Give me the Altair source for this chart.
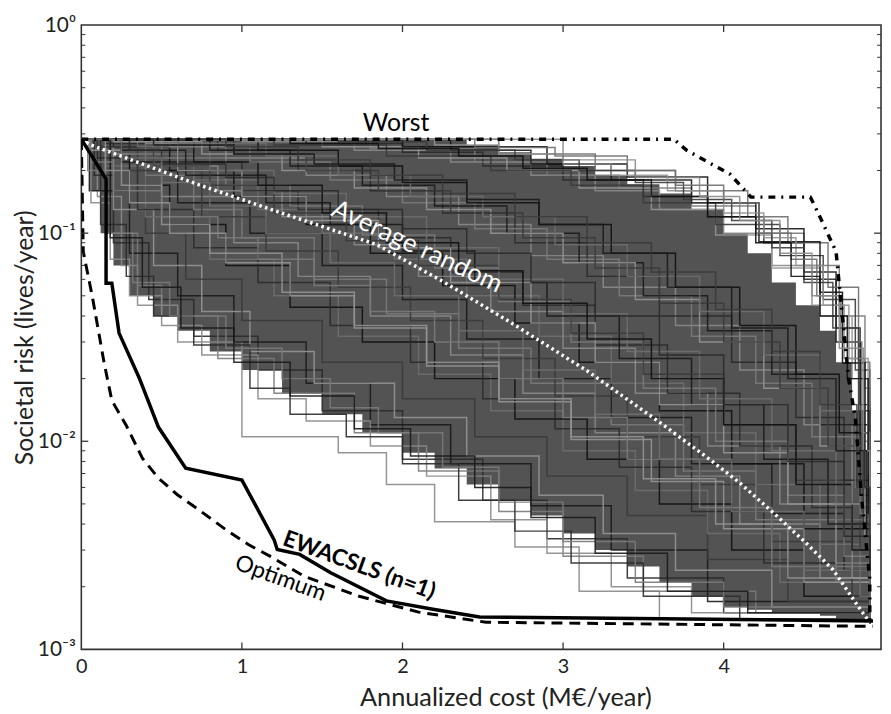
import altair as alt
import pandas as pd

X_MAX = 4.98
Y_MIN, Y_MAX = 0.001, 1.0

# ---- random measure orderings (staircases) ----
RANDOM_COSTS = [
    [0, 0.1, 0.25, 0.35, 0.6, 1.0, 1.6, 1.9, 2.2, 2.7, 3.1, 3.6, 4.91],
    [0, 0.08, 0.2, 0.42, 0.7, 1.1, 1.5, 2.0, 2.5, 2.9, 3.4, 4.0, 4.91],
    [0, 0.15, 0.35, 0.5, 0.85, 1.2, 1.7, 2.1, 2.6, 3.0, 3.5, 4.2, 4.91],
    [0, 0.05, 0.3, 0.6, 0.95, 1.4, 1.8, 2.3, 2.8, 3.3, 3.9, 4.91],
    [0, 0.2, 0.45, 0.75, 1.05, 1.45, 1.95, 2.4, 2.85, 3.25, 3.7, 4.3, 4.91],
    [0, 0.1, 0.4, 0.65, 1.0, 1.5, 2.0, 2.45, 2.9, 3.4, 3.9, 4.4, 4.91],
    [0, 0.15, 0.4, 0.8, 1.2, 1.6, 2.1, 2.55, 3.0, 3.45, 3.9, 4.35, 4.91],
    [0, 0.3, 0.55, 0.9, 1.3, 1.75, 2.2, 2.7, 3.15, 3.6, 4.05, 4.5, 4.91],
    [0, 0.2, 0.5, 0.95, 1.35, 1.8, 2.3, 2.75, 3.2, 3.7, 4.1, 4.6, 4.91],
    [0, 0.1, 0.35, 0.7, 1.1, 1.55, 2.05, 2.5, 2.95, 3.35, 3.8, 4.25, 4.91],
    [0, 0.4, 0.7, 1.0, 1.45, 1.9, 2.35, 2.8, 3.3, 3.75, 4.2, 4.7, 4.91],
    [0, 0.25, 0.6, 1.05, 1.5, 2.0, 2.4, 2.85, 3.3, 3.8, 4.3, 4.75, 4.91],
    [0, 0.05, 0.25, 0.5, 0.8, 1.25, 1.7, 2.15, 2.6, 3.05, 3.55, 4.0, 4.5, 4.91],
    [0, 0.35, 0.75, 1.15, 1.6, 2.05, 2.5, 2.95, 3.4, 3.85, 4.3, 4.8, 4.91],
    [0, 0.3, 0.7, 1.1, 1.5, 1.95, 2.4, 2.85, 3.3, 3.75, 4.2, 4.6, 4.85, 4.91],
    [0, 0.2, 0.55, 0.95, 1.4, 1.8, 2.25, 2.7, 3.1, 3.6, 4.05, 4.5, 4.91],
    [0, 0.45, 0.85, 1.25, 1.7, 2.1, 2.55, 3.0, 3.45, 3.9, 4.35, 4.7, 4.91],
    [0, 0.15, 0.6, 1.0, 1.35, 1.85, 2.3, 2.75, 3.2, 3.65, 4.1, 4.55, 4.8, 4.91],
    [0, 0.5, 0.9, 1.3, 1.75, 2.2, 2.6, 3.05, 3.5, 3.95, 4.4, 4.75, 4.91],
    [0, 0.25, 0.65, 1.15, 1.55, 2.0, 2.45, 2.9, 3.35, 3.8, 4.25, 4.65, 4.91],
    [0, 0.6, 1.0, 1.4, 1.85, 2.3, 2.8, 3.2, 3.6, 4.0, 4.4, 4.8, 4.91],
    [0, 0.1, 0.45, 0.8, 1.2, 1.65, 2.1, 2.6, 3.05, 3.5, 4.0, 4.45, 4.85, 4.91],
    [0, 0.35, 0.8, 1.2, 1.65, 2.15, 2.6, 3.0, 3.4, 3.85, 4.3, 4.7, 4.91],
    [0, 0.7, 1.1, 1.5, 1.9, 2.35, 2.75, 3.15, 3.55, 4.0, 4.45, 4.8, 4.91],
    [0, 0.4, 0.9, 1.4, 1.9, 2.35, 2.8, 3.25, 3.7, 4.1, 4.5, 4.8, 4.91],
    [0, 0.3, 0.85, 1.35, 1.8, 2.25, 2.7, 3.15, 3.6, 4.05, 4.45, 4.75, 4.91],
    [0, 0.55, 1.05, 1.55, 2.0, 2.45, 2.9, 3.35, 3.8, 4.2, 4.55, 4.85, 4.91],
    [0, 0.8, 1.3, 1.75, 2.2, 2.65, 3.1, 3.5, 3.9, 4.3, 4.6, 4.85, 4.91],
    [0, 0.2, 0.75, 1.25, 1.7, 2.15, 2.55, 3.0, 3.45, 3.85, 4.25, 4.6, 4.88, 4.91],
    [0, 0.95, 1.4, 1.85, 2.3, 2.75, 3.2, 3.6, 4.0, 4.35, 4.65, 4.87, 4.91],
    [0, 0.6, 1.15, 1.6, 2.05, 2.5, 2.95, 3.4, 3.85, 4.25, 4.6, 4.82, 4.91],
    [0, 1.1, 1.6, 2.0, 2.4, 2.85, 3.3, 3.7, 4.1, 4.45, 4.72, 4.9, 4.91],
    [0, 1.0, 1.7, 2.3, 2.8, 3.2, 3.6, 4.0, 4.3, 4.55, 4.75, 4.88, 4.91],
    [0, 1.4, 2.0, 2.5, 3.0, 3.5, 3.9, 4.25, 4.5, 4.7, 4.85, 4.91],
    [0, 1.8, 2.45, 2.9, 3.35, 3.8, 4.2, 4.5, 4.72, 4.88, 4.91],
    [0, 2.3, 2.8, 3.3, 3.8, 4.2, 4.5, 4.7, 4.85, 4.91],
    [0, 0.7, 1.5, 2.1, 2.65, 3.1, 3.55, 3.95, 4.3, 4.6, 4.8, 4.9, 4.91],
    [0, 1.2, 1.9, 2.55, 3.05, 3.5, 3.95, 4.35, 4.62, 4.82, 4.91],
    [0, 2.6, 3.2, 3.7, 4.15, 4.4, 4.65, 4.84, 4.91],
    [0, 2.0, 2.9, 3.4, 3.9, 4.22, 4.6, 4.74, 4.88, 4.91],
    [0, 0.06, 0.18, 0.3, 0.5, 0.75, 1.1, 1.4, 1.8, 2.15, 2.55, 2.9, 3.3, 3.8, 4.91],
    [0, 0.12, 0.28, 0.45, 0.7, 1.05, 1.3, 1.65, 2.0, 2.35, 2.7, 3.05, 3.5, 4.1, 4.91],
    [0, 0.04, 0.15, 0.32, 0.55, 0.9, 1.25, 1.55, 1.85, 2.25, 2.6, 3.0, 3.45, 4.0, 4.91],
    [0, 0.18, 0.38, 0.62, 0.95, 1.3, 1.7, 2.05, 2.45, 2.8, 3.2, 3.65, 4.15, 4.91],
    [0, 2.2, 2.6, 3.0, 3.3, 3.65, 4.0, 4.25, 4.45, 4.62, 4.78, 4.9, 4.91],
    [0, 1.6, 2.15, 2.7, 3.1, 3.45, 3.75, 4.05, 4.3, 4.5, 4.68, 4.84, 4.91],
    [0, 2.45, 2.95, 3.4, 3.7, 4.0, 4.22, 4.42, 4.58, 4.73, 4.86, 4.91],
    [0, 1.3, 1.85, 2.35, 2.75, 3.15, 3.55, 3.9, 4.2, 4.42, 4.6, 4.77, 4.9, 4.91],
    [0, 3.0, 3.45, 3.85, 4.1, 4.35, 4.55, 4.72, 4.87, 4.91],
    [0, 0.3, 0.5, 0.9, 1.2, 1.6, 2.0, 2.4, 2.8, 3.2, 3.6, 4.0, 4.4, 4.75, 4.91],
    [0, 0.06, 0.2, 0.5, 0.85, 1.1, 1.45, 1.8, 2.2, 2.6, 3.0, 3.4, 3.85, 4.3, 4.91],
    [0, 0.45, 0.95, 1.45, 1.95, 2.4, 2.85, 3.25, 3.65, 4.05, 4.4, 4.7, 4.89, 4.91],
    [0, 0.15, 0.3, 0.55, 0.9, 1.3, 1.7, 2.15, 2.6, 3.05, 3.5, 3.95, 4.4, 4.91],
    [0, 0.9, 1.35, 1.8, 2.25, 2.7, 3.15, 3.55, 3.95, 4.3, 4.6, 4.83, 4.91],
    [0, 0.25, 0.5, 0.8, 1.15, 1.55, 1.95, 2.35, 2.75, 3.2, 3.6, 4.05, 4.5, 4.91],
]
RANDOM_RISKS = [
    [0.283, 0.15, 0.07, 0.045, 0.03, 0.0105, 0.0088, 0.0062, 0.0041, 0.0031, 0.0019, 0.0014, 0.00133],
    [0.283, 0.19, 0.09, 0.048, 0.032, 0.022, 0.014, 0.0082, 0.0052, 0.0034, 0.0022, 0.0015, 0.00133],
    [0.283, 0.1, 0.056, 0.04, 0.025, 0.017, 0.011, 0.0072, 0.0046, 0.0028, 0.0019, 0.0015, 0.00133],
    [0.283, 0.16, 0.08, 0.05, 0.03, 0.019, 0.012, 0.0078, 0.0049, 0.003, 0.0017, 0.00133],
    [0.283, 0.13, 0.07, 0.042, 0.027, 0.019, 0.013, 0.0085, 0.0055, 0.0036, 0.0024, 0.0016, 0.00133],
    [0.283, 0.2, 0.1, 0.06, 0.038, 0.024, 0.016, 0.0105, 0.0068, 0.0044, 0.0027, 0.0017, 0.00133],
    [0.283, 0.21, 0.12, 0.075, 0.05, 0.032, 0.021, 0.014, 0.009, 0.0058, 0.0036, 0.0021, 0.00133],
    [0.283, 0.17, 0.11, 0.07, 0.044, 0.03, 0.02, 0.0128, 0.0082, 0.005, 0.003, 0.0018, 0.00133],
    [0.283, 0.24, 0.15, 0.09, 0.062, 0.04, 0.026, 0.017, 0.011, 0.0068, 0.004, 0.0022, 0.00133],
    [0.283, 0.23, 0.13, 0.085, 0.058, 0.036, 0.024, 0.016, 0.0115, 0.0075, 0.0046, 0.0026, 0.00133],
    [0.283, 0.19, 0.13, 0.095, 0.06, 0.041, 0.028, 0.019, 0.012, 0.0072, 0.0042, 0.0021, 0.00133],
    [0.283, 0.22, 0.14, 0.1, 0.07, 0.048, 0.031, 0.02, 0.013, 0.0078, 0.0045, 0.0024, 0.00133],
    [0.283, 0.25, 0.17, 0.11, 0.08, 0.052, 0.035, 0.023, 0.0155, 0.0102, 0.0064, 0.0038, 0.0021, 0.00133],
    [0.283, 0.2, 0.12, 0.082, 0.055, 0.038, 0.025, 0.0165, 0.0105, 0.0062, 0.0033, 0.0018, 0.00133],
    [0.283, 0.24, 0.18, 0.13, 0.1, 0.075, 0.05, 0.032, 0.019, 0.011, 0.0062, 0.0032, 0.0018, 0.00133],
    [0.283, 0.26, 0.2, 0.15, 0.11, 0.08, 0.056, 0.037, 0.024, 0.014, 0.0078, 0.0038, 0.00133],
    [0.283, 0.21, 0.16, 0.12, 0.088, 0.062, 0.042, 0.028, 0.017, 0.0095, 0.005, 0.0026, 0.00133],
    [0.283, 0.27, 0.22, 0.16, 0.13, 0.095, 0.065, 0.045, 0.029, 0.017, 0.0095, 0.0048, 0.0025, 0.00133],
    [0.283, 0.23, 0.17, 0.135, 0.098, 0.068, 0.047, 0.03, 0.018, 0.01, 0.0055, 0.0028, 0.00133],
    [0.283, 0.25, 0.19, 0.14, 0.11, 0.082, 0.058, 0.04, 0.025, 0.015, 0.0082, 0.004, 0.00133],
    [0.283, 0.2, 0.15, 0.115, 0.085, 0.058, 0.037, 0.024, 0.015, 0.0088, 0.005, 0.0022, 0.00133],
    [0.283, 0.26, 0.21, 0.17, 0.125, 0.092, 0.07, 0.048, 0.033, 0.021, 0.012, 0.0065, 0.003, 0.00133],
    [0.283, 0.26, 0.2, 0.155, 0.12, 0.085, 0.06, 0.041, 0.027, 0.016, 0.009, 0.0042, 0.00133],
    [0.283, 0.22, 0.17, 0.125, 0.09, 0.066, 0.046, 0.031, 0.02, 0.012, 0.0062, 0.003, 0.00133],
    [0.283, 0.27, 0.23, 0.19, 0.15, 0.11, 0.078, 0.055, 0.036, 0.022, 0.012, 0.005, 0.00133],
    [0.283, 0.28, 0.25, 0.2, 0.16, 0.125, 0.09, 0.062, 0.04, 0.024, 0.013, 0.0065, 0.00133],
    [0.283, 0.26, 0.22, 0.18, 0.14, 0.105, 0.075, 0.05, 0.032, 0.019, 0.0105, 0.0045, 0.00133],
    [0.283, 0.25, 0.21, 0.17, 0.135, 0.1, 0.072, 0.05, 0.034, 0.021, 0.012, 0.0055, 0.00133],
    [0.283, 0.275, 0.24, 0.2, 0.165, 0.13, 0.1, 0.072, 0.048, 0.03, 0.018, 0.0095, 0.0035, 0.00133],
    [0.283, 0.24, 0.2, 0.16, 0.125, 0.095, 0.068, 0.046, 0.03, 0.018, 0.0095, 0.004, 0.00133],
    [0.283, 0.27, 0.235, 0.19, 0.15, 0.12, 0.088, 0.062, 0.042, 0.026, 0.014, 0.006, 0.00133],
    [0.283, 0.25, 0.21, 0.175, 0.14, 0.11, 0.08, 0.055, 0.036, 0.021, 0.011, 0.0045, 0.00133],
    [0.283, 0.275, 0.25, 0.22, 0.19, 0.16, 0.13, 0.1, 0.07, 0.045, 0.025, 0.01, 0.00133],
    [0.283, 0.27, 0.245, 0.21, 0.18, 0.15, 0.12, 0.09, 0.06, 0.035, 0.015, 0.00133],
    [0.283, 0.255, 0.22, 0.19, 0.165, 0.135, 0.1, 0.07, 0.04, 0.018, 0.00133],
    [0.283, 0.25, 0.215, 0.18, 0.14, 0.105, 0.065, 0.03, 0.012, 0.00133],
    [0.283, 0.28, 0.26, 0.23, 0.2, 0.165, 0.13, 0.098, 0.068, 0.04, 0.02, 0.007, 0.00133],
    [0.283, 0.265, 0.235, 0.2, 0.17, 0.14, 0.11, 0.078, 0.048, 0.022, 0.00133],
    [0.283, 0.24, 0.2, 0.16, 0.12, 0.09, 0.055, 0.024, 0.00133],
    [0.283, 0.26, 0.215, 0.186, 0.14, 0.091, 0.052, 0.0238, 0.006, 0.00133],
    [0.283, 0.14, 0.075, 0.05, 0.036, 0.026, 0.016, 0.0125, 0.0095, 0.0068, 0.0042, 0.0029, 0.002, 0.0015, 0.00133],
    [0.283, 0.11, 0.062, 0.04, 0.029, 0.018, 0.0135, 0.0105, 0.0078, 0.0052, 0.0037, 0.0026, 0.0018, 0.0014, 0.00133],
    [0.283, 0.2, 0.1, 0.058, 0.04, 0.028, 0.02, 0.0145, 0.011, 0.0075, 0.0051, 0.0033, 0.0021, 0.0016, 0.00133],
    [0.283, 0.095, 0.055, 0.035, 0.024, 0.0165, 0.0115, 0.0085, 0.006, 0.0043, 0.0029, 0.0019, 0.0015, 0.00133],
    [0.283, 0.265, 0.24, 0.215, 0.19, 0.16, 0.125, 0.095, 0.07, 0.045, 0.025, 0.008, 0.00133],
    [0.283, 0.275, 0.25, 0.225, 0.2, 0.175, 0.145, 0.115, 0.085, 0.058, 0.035, 0.014, 0.00133],
    [0.283, 0.258, 0.235, 0.2, 0.17, 0.14, 0.1, 0.075, 0.05, 0.03, 0.011, 0.00133],
    [0.283, 0.27, 0.255, 0.235, 0.205, 0.18, 0.15, 0.12, 0.09, 0.062, 0.04, 0.02, 0.006, 0.00133],
    [0.283, 0.225, 0.185, 0.15, 0.115, 0.08, 0.05, 0.028, 0.009, 0.00133],
    [0.283, 0.25, 0.215, 0.185, 0.16, 0.13, 0.105, 0.08, 0.058, 0.04, 0.026, 0.015, 0.008, 0.0035, 0.00133],
    [0.283, 0.22, 0.16, 0.12, 0.095, 0.075, 0.056, 0.042, 0.03, 0.02, 0.013, 0.0082, 0.0048, 0.0025, 0.00133],
    [0.283, 0.265, 0.24, 0.215, 0.18, 0.145, 0.11, 0.08, 0.055, 0.035, 0.02, 0.009, 0.0035, 0.00133],
    [0.283, 0.2, 0.14, 0.1, 0.072, 0.05, 0.036, 0.024, 0.016, 0.0105, 0.0066, 0.004, 0.0022, 0.00133],
    [0.283, 0.26, 0.225, 0.19, 0.155, 0.12, 0.09, 0.065, 0.043, 0.027, 0.015, 0.006, 0.00133],
    [0.283, 0.23, 0.175, 0.135, 0.1, 0.072, 0.05, 0.034, 0.022, 0.0135, 0.0082, 0.0046, 0.0024, 0.00133],
]

# dense core of the random-ordering bundle (where the lines merge into a dark mass)
BAND_COST = [0, 0.05, 0.12, 0.2, 0.3, 0.45, 0.6, 0.8, 1.0, 1.25, 1.5, 1.75, 2.0, 2.2, 2.4, 2.6,
             2.8, 3.0, 3.2, 3.4, 3.6, 3.8, 4.0, 4.15, 4.3, 4.45, 4.6, 4.7, 4.8, 4.88, 4.91]
BAND_UPPER = [0.283, 0.283, 0.283, 0.283, 0.283, 0.283, 0.283, 0.283, 0.283, 0.283, 0.283, 0.283,
              0.283, 0.283, 0.265, 0.245, 0.228, 0.21, 0.19, 0.172, 0.155, 0.13, 0.1, 0.08, 0.058,
              0.045, 0.034, 0.024, 0.014, 0.006, 0.00133]
BAND_LOWER = [0.283, 0.16, 0.1, 0.07, 0.05, 0.04, 0.034, 0.027, 0.022, 0.017, 0.0135, 0.011, 0.0088,
              0.0074, 0.0062, 0.0052, 0.0044, 0.0036, 0.003, 0.0025, 0.0021, 0.0018, 0.0016, 0.00155,
              0.0015, 0.0015, 0.00145, 0.0014, 0.0014, 0.00135, 0.00133]

# ---- named curves ----
AVG_COST = [0, 0.05, 0.73, 1.22, 1.84, 2.25, 2.66, 3.15, 3.61, 3.92, 4.10, 4.31, 4.51, 4.68, 4.85, 4.91]
AVG_RISK = [0.283, 0.267, 0.171, 0.127, 0.0881, 0.0587, 0.0378, 0.0218, 0.0122, 0.00811, 0.00631,
            0.00453, 0.00326, 0.00242, 0.00156, 0.00135]

WORST_COST = [0, 3.69, 3.77, 4.04, 4.17, 4.54, 4.57, 4.70, 4.73, 4.78, 4.82, 4.86, 4.91, 4.91]
WORST_RISK = [0.283, 0.283, 0.250, 0.192, 0.149, 0.149, 0.134, 0.0816, 0.0471, 0.0195, 0.0130,
              0.00523, 0.00217, 0.0013]

OPT_COST = [0, 0.012, 0.068, 0.142, 0.19, 0.28, 0.38, 0.48, 0.60, 0.73, 0.90, 1.04, 1.18, 1.39,
            1.73, 2.10, 2.52, 4.93]
OPT_RISK = [0.283, 0.0816, 0.0498, 0.0238, 0.0157, 0.0119, 0.0083, 0.00665, 0.00552, 0.00469,
            0.00376, 0.00319, 0.00279, 0.00224, 0.0018, 0.00151, 0.00135, 0.00129]

EW_COST = [0, 0.154, 0.154, 0.19, 0.235, 0.36, 0.48, 0.65, 1.0, 1.20, 1.22, 1.36, 1.55, 1.90, 2.19,
           2.48, 4.93]
EW_RISK = [0.283, 0.182, 0.0574, 0.0574, 0.0331, 0.0202, 0.0117, 0.00743, 0.00651, 0.00337, 0.00302,
           0.00286, 0.00234, 0.00171, 0.00156, 0.00143, 0.00137]

LABEL_TEXT = ["Worst", "Average random", "EWACSLS (n=1)", "Optimum"]
LABEL_COST = [1.96, 2.09, 1.73, 1.24]
LABEL_RISK = [0.337, 0.086, 0.00253, 0.00219]

X_TICKS = [0, 1, 2, 3, 4]
Y_MAJOR = [1, 0.1, 0.01, 0.001]
Y_MINOR = [0.002, 0.003, 0.004, 0.005, 0.006, 0.007, 0.008, 0.009,
           0.02, 0.03, 0.04, 0.05, 0.06, 0.07, 0.08, 0.09,
           0.2, 0.3, 0.4, 0.5, 0.6, 0.7, 0.8, 0.9]

W, H = 807, 630
FONT = "Lato"
GRAYS = ["#8a8a8a", "#2a2a2a", "#7a7a7a", "#1a1a1a", "#949494", "#3a3a3a", "#6e6e6e", "#111111"]

# ---- tables ----
rows = []
for i, (cs, rs) in enumerate(zip(RANDOM_COSTS, RANDOM_RISKS)):
    for c, r in zip(cs, rs):
        rows.append({"id": i, "cost": c, "risk": r, "shade": GRAYS[i % len(GRAYS)]})
rand_df = pd.DataFrame(rows)
band_df = pd.DataFrame({"cost": BAND_COST, "upper": BAND_UPPER, "lower": BAND_LOWER})


def curve(costs, risks):
    return pd.DataFrame({"cost": costs, "risk": risks, "idx": list(range(len(costs)))})


xs = alt.Scale(domain=[0, X_MAX], nice=False, zero=False)
ys = alt.Scale(type="log", domain=[Y_MIN, Y_MAX], nice=False)

x_axis = alt.Axis(values=X_TICKS, format="d", ticks=False, domain=False, grid=False,
                  labelFontSize=20, labelFont=FONT, labelColor="#222", labelPadding=7,
                  labelFlush=False, title="Annualized cost (M€/year)", titleFontSize=25.5,
                  titleFont=FONT, titleFontWeight="normal", titleColor="#222",
                  titleX=428, titleY=57, titleBaseline="alphabetic", titleAnchor="middle")
y_axis = alt.Axis(values=Y_MAJOR, ticks=False, domain=False, grid=False,
                  labelExpr="datum.value >= 0.5 ? '10⁰' : datum.value >= 0.05 ? '10⁻¹' : datum.value >= 0.005 ? '10⁻²' : '10⁻³'",
                  labelFontSize=21, labelFont=FONT, labelColor="#222", labelPadding=6,
                  labelFlush=False, title="Societal risk (lives/year)", titleFontSize=25,
                  titleFont=FONT, titleFontWeight="normal", titleColor="#222",
                  titleX=-57, titleY=H / 2, titleAngle=-90, titleBaseline="middle",
                  titleAlign="center")

band_layer = alt.Chart(band_df).mark_area(
    color="#444444", opacity=0.92, clip=True, interpolate="step-after"
).encode(
    x=alt.X("cost:Q", scale=xs, axis=x_axis),
    y=alt.Y("upper:Q", scale=ys, axis=y_axis),
    y2="lower:Q",
)

random_layer = alt.Chart(rand_df).mark_line(
    interpolate="step-after", strokeWidth=1.5, opacity=0.9, clip=True
).encode(
    x=alt.X("cost:Q", scale=xs),
    y=alt.Y("risk:Q", scale=ys),
    detail="id:N",
    color=alt.Color("shade:N", scale=None),
)


def named(costs, risks, **kw):
    return alt.Chart(curve(costs, risks)).mark_line(clip=True, **kw).encode(
        x=alt.X("cost:Q", scale=xs), y=alt.Y("risk:Q", scale=ys), order="idx:Q")


avg_layer = named(AVG_COST, AVG_RISK, color="white", strokeWidth=3.5, strokeDash=[2.5, 3.5])
worst_layer = named(WORST_COST, WORST_RISK, color="black", strokeWidth=3.5, strokeDash=[7, 6, 2, 6])
opt_layer = named(OPT_COST, OPT_RISK, color="black", strokeWidth=3, strokeDash=[11, 7])
ew_layer = named(EW_COST, EW_RISK, color="black", strokeWidth=3.5)

lab = pd.DataFrame({"text": LABEL_TEXT, "cost": LABEL_COST, "risk": LABEL_RISK})


def label(i, **kw):
    return alt.Chart(lab.iloc[[i]]).mark_text(font=FONT, **kw).encode(
        x=alt.X("cost:Q", scale=xs), y=alt.Y("risk:Q", scale=ys), text="text:N")


labels = [
    label(0, fontSize=25, color="black"),
    label(1, fontSize=26, color="white", angle=25),
    label(2, fontSize=23, color="black", fontWeight="bold", angle=20),
    label(3, fontSize=23, color="black", angle=20),
]

# inward ticks
tick_color = "#333"
xt = pd.DataFrame({"v": X_TICKS[1:]})
ymaj = pd.DataFrame({"v": Y_MAJOR[1:3]})
ymin = pd.DataFrame({"v": Y_MINOR})
ticks = [
    alt.Chart(xt).mark_rule(color=tick_color, strokeWidth=1.3).encode(
        x=alt.X("v:Q", scale=xs), y=alt.value(H - 7), y2=alt.value(H)),
    alt.Chart(xt).mark_rule(color=tick_color, strokeWidth=1.3).encode(
        x=alt.X("v:Q", scale=xs), y=alt.value(0), y2=alt.value(7)),
    alt.Chart(ymaj).mark_rule(color=tick_color, strokeWidth=1.3).encode(
        y=alt.Y("v:Q", scale=ys), x=alt.value(0), x2=alt.value(7)),
    alt.Chart(ymaj).mark_rule(color=tick_color, strokeWidth=1.3).encode(
        y=alt.Y("v:Q", scale=ys), x=alt.value(W - 7), x2=alt.value(W)),
    alt.Chart(ymin).mark_rule(color=tick_color, strokeWidth=1).encode(
        y=alt.Y("v:Q", scale=ys), x=alt.value(0), x2=alt.value(4)),
    alt.Chart(ymin).mark_rule(color=tick_color, strokeWidth=1).encode(
        y=alt.Y("v:Q", scale=ys), x=alt.value(W - 4), x2=alt.value(W)),
]

chart = alt.layer(
    band_layer, random_layer, avg_layer, worst_layer, opt_layer, ew_layer, *labels, *ticks
).properties(
    width=W, height=H,
    autosize=alt.AutoSizeParams(type="none"),
    padding={"left": 74, "top": 14, "right": 2, "bottom": 62},
    background="white",
).configure_view(stroke="#333", strokeWidth=1.6)

chart.save("out.html", embed_options={"renderer": "svg", "actions": False})
